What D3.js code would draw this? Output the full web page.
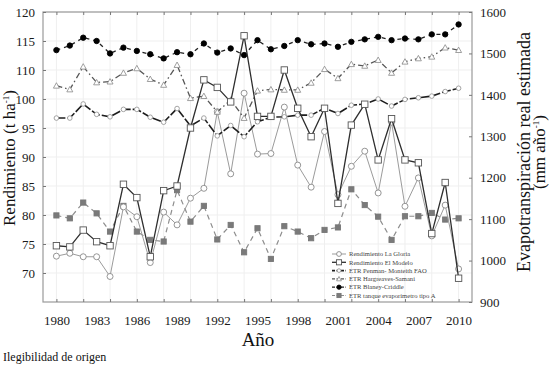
<!DOCTYPE html>
<html><head><meta charset="utf-8">
<script src="https://cdn.jsdelivr.net/npm/d3@7"></script>
<style>body{margin:0;background:#fff}svg{display:block;font-family:"Liberation Serif","DejaVu Serif",serif}</style>
</head><body><svg id="c" width="550" height="366"></svg>
<script>
const years = [1980,1981,1982,1983,1984,1985,1986,1987,1988,1989,1990,1991,1992,1993,1994,1995,1996,1997,1998,1999,2000,2001,2002,2003,2004,2005,2006,2007,2008,2009,2010];
const laGloria = [72.9,73.4,72.8,72.8,69.4,81.4,79.7,71.8,80.5,78.3,82.9,84.6,97.8,87.1,102,90.5,90.6,98.6,88.6,84.8,94.4,83.5,88.4,91,83.8,96.0,81.5,86.4,76.4,81.7,70.7];
const elModelo = [74.7,74.5,77.4,75.4,74.7,85.3,83.0,72.8,84.2,85.0,95.0,106.6,104.0,99.5,115.9,97.0,97.0,110,98.4,93.5,98.4,82.0,95.5,99.1,89.5,96.6,89.5,89.0,76.8,85.6,69.1];
const penman = [1344,1344,1378,1353,1347,1365,1365,1346,1334,1367,1325,1344,1301,1326,1299,1335,1346,1347,1351,1351,1368,1355,1375,1378,1390,1373,1389,1393,1397,1408,1416];
const hargreaves = [1422,1413,1468,1430,1432,1453,1464,1438,1424,1472,1392,1397,1359,1388,1344,1410,1413,1412,1412,1429,1462,1440,1474,1470,1484,1453,1480,1488,1492,1514,1508];
const blaney = [1508,1519,1538,1530,1500,1514,1506,1498,1488,1503,1498,1524,1502,1512,1496,1532,1510,1518,1532,1522,1524,1516,1528,1534,1540,1532,1536,1534,1546,1546,1570];
const tanque = [1109,1102,1140,1114,1070,1132,1070,1050,1046,1170,1094,1132,1051,1086,1020,1078,1004,1083,1070,1054,1074,1080,1172,1134,1106,1050,1107,1107,1115,1099,1102];
const xTickLabels = [1980,1983,1986,1989,1992,1995,1998,2001,2004,2007,2010];
const xMinorTicks = [1980,1982,1984,1986,1988,1990,1992,1994,1996,1998,2000,2002,2004,2006,2008,2010];
const leftTickLabels = [120,115,110,100,95,90,85,80,75,70];
const rightTickLabels = [1600,1500,1400,1300,1200,1100,1000,900];
const seriesNames = ["Rendimiento La Gloria","Rendimiento El Modelo","ETR Penman- Monteith FAO","ETR Hargreaves-Samani","ETR Blaney-Criddle","ETR tanque evaporímetro tipo A"];

const L=43,R=472,T=12,B=302;
const svg=d3.select("#c");
const x=d3.scaleLinear().domain([1979,2011]).range([L,R]);
const yR=d3.scaleLinear().domain([900,1600]).range([B,T]);
const yLDom=[65].concat(leftTickLabels.slice().reverse());
const yL=d3.scaleLinear().domain(yLDom).range(yLDom.map((d,i)=>B-i*(B-T)/(yLDom.length-1)));

// grid
const g=svg.append("g");
g.selectAll("line.gv").data(xMinorTicks).join("line").attr("x1",d=>x(d)).attr("x2",d=>x(d)).attr("y1",T).attr("y2",B).attr("stroke","#efefef");
g.selectAll("line.gh").data(leftTickLabels).join("line").attr("x1",L).attr("x2",R).attr("y1",d=>yL(d)).attr("y2",d=>yL(d)).attr("stroke","#efefef");

// frame
svg.append("rect").attr("x",L).attr("y",T).attr("width",R-L).attr("height",B-T).attr("fill","none").attr("stroke","#9a9a9a").attr("stroke-width",1.2);

// axes
const ax=(sel)=>{sel.select(".domain").remove();sel.selectAll(".tick line").attr("stroke","#777");sel.selectAll(".tick text").attr("fill","#1a1a1a").attr("font-size",13).attr("font-family","Liberation Serif");};
svg.append("g").attr("transform",`translate(0,${B})`).call(d3.axisBottom(x).tickValues(xMinorTicks).tickSize(-3).tickFormat("")).call(ax);
svg.append("g").attr("transform",`translate(0,${T})`).call(d3.axisTop(x).tickValues(xMinorTicks).tickSize(-3).tickFormat("")).call(ax);
svg.append("g").attr("transform",`translate(0,${B})`).call(d3.axisBottom(x).tickValues(xTickLabels).tickSize(0).tickPadding(14).tickFormat(d3.format("d"))).call(ax);
svg.append("g").attr("transform",`translate(${L},0)`).call(d3.axisLeft(yL).tickValues(leftTickLabels).tickSize(-3).tickPadding(8).tickFormat(d3.format("d"))).call(ax);
svg.append("g").attr("transform",`translate(${R},0)`).call(d3.axisRight(yR).tickValues(rightTickLabels).tickSize(-3).tickPadding(8).tickFormat(d3.format("d"))).call(ax);

// titles
svg.append("text").attr("x",258).attr("y",346).attr("text-anchor","middle").attr("font-size",19).attr("fill","#111").text("Año");
svg.append("text").attr("x",3).attr("y",361).attr("font-size",12).attr("fill","#111").text("Ilegibilidad de origen");
const lt=svg.append("text").attr("transform","translate(15,158) rotate(-90)").attr("text-anchor","middle").attr("font-size",17).attr("fill","#111");
lt.append("tspan").text("Rendimiento (t ha");lt.append("tspan").attr("font-size",9).attr("dy",-6).text("-1");lt.append("tspan").attr("dy",6).text(")");
const rt=svg.append("g").attr("transform","translate(530,152) rotate(-90)");
rt.append("text").attr("text-anchor","middle").attr("font-size",18).attr("fill","#111").text("Evapotranspiración real estimada");
const rt2=rt.append("text").attr("text-anchor","middle").attr("y",15).attr("font-size",17).attr("fill","#111");
rt2.append("tspan").text("(mm año");rt2.append("tspan").attr("font-size",9).attr("dy",-6).text("-1");rt2.append("tspan").attr("dy",6).text(")");

// series defs
const defs=[
 {name:seriesNames[0],data:laGloria,y:yL,stroke:"#9b9b9b",w:1,dash:null,mark:"circle",r:3,mstroke:"#8a8a8a",mfill:"#fff"},
 {name:seriesNames[1],data:elModelo,y:yL,stroke:"#2e2e2e",w:1.3,dash:null,mark:"square",r:3.2,mstroke:"#555",mfill:"#fff"},
 {name:seriesNames[2],data:penman,y:yR,stroke:"#1e1e1e",w:1.6,dash:"9,2",mark:"circle",r:2.3,mstroke:"#9a9a9a",mfill:"#fff"},
 {name:seriesNames[3],data:hargreaves,y:yR,stroke:"#555",w:1.3,dash:"6,3,1.5,3",mark:"triangle",r:3,mstroke:"#888",mfill:"#fff"},
 {name:seriesNames[4],data:blaney,y:yR,stroke:"#222",w:1.3,dash:"4,4",mark:"dot",r:2.7,mstroke:"#000",mfill:"#000"},
 {name:seriesNames[5],data:tanque,y:yR,stroke:"#8d8d8d",w:1.2,dash:"5,4",mark:"square",r:2.6,mstroke:"#777",mfill:"#7a7a7a"}
];
const drawOrder=[5,0,3,2,4,1];
function marker(sel,d,cx,cy){
  if(d.mark==="circle"||d.mark==="dot") sel.append("circle").attr("cx",cx).attr("cy",cy).attr("r",d.r).attr("fill",d.mfill).attr("stroke",d.mstroke).attr("stroke-width",0.9);
  else if(d.mark==="square") sel.append("rect").attr("x",cx-d.r).attr("y",cy-d.r).attr("width",2*d.r).attr("height",2*d.r).attr("fill",d.mfill).attr("stroke",d.mstroke).attr("stroke-width",0.9);
  else sel.append("path").attr("d",`M${cx},${cy-d.r}L${cx+d.r},${cy+d.r*0.8}L${cx-d.r},${cy+d.r*0.8}Z`).attr("fill",d.mfill).attr("stroke",d.mstroke).attr("stroke-width",0.8);
}
drawOrder.forEach(i=>{
  const d=defs[i];
  const line=d3.line().x((v,j)=>x(years[j])).y(v=>d.y(v));
  svg.append("path").attr("d",line(d.data)).attr("fill","none").attr("stroke",d.stroke).attr("stroke-width",d.w).attr("stroke-dasharray",d.dash);
  const mg=svg.append("g");
  d.data.forEach((v,j)=>marker(mg,d,x(years[j]),d.y(v)));
});

// legend
const lg=svg.append("g");
defs.forEach((d,i)=>{
  const yy=254+i*8.3;
  lg.append("line").attr("x1",332).attr("x2",346).attr("y1",yy).attr("y2",yy).attr("stroke",d.stroke).attr("stroke-width",d.w).attr("stroke-dasharray",d.dash?"3,1.5":null);
  marker(lg,Object.assign({},d,{r:d.r*0.8}),339,yy);
  lg.append("text").attr("x",349).attr("y",yy+2.2).attr("font-size",6.6).attr("fill","#444").text(d.name);
});
</script></body></html>
